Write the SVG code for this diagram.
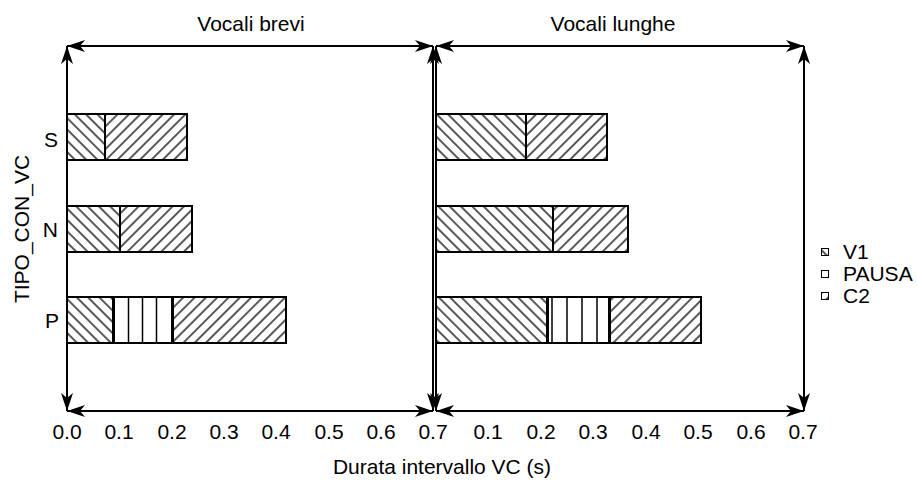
<svg xmlns="http://www.w3.org/2000/svg" width="917" height="480" viewBox="0 0 917 480">
<style>
  text { font-family: "Liberation Sans", Arial, sans-serif; font-size: 21px; fill: #000; }
  .axis { stroke: #000; stroke-width: 2; fill: none; marker-start: url(#arr); marker-end: url(#arr); }
  .bar { stroke: #000; stroke-width: 2; }
  .v1 { fill: url(#hatchV1); }
  .c2 { fill: url(#hatchC2); }
  .pa { fill: #fff; }
  .pl { stroke: #000; stroke-width: 1.5; }
  .tick { text-anchor: middle; }
  .cat { text-anchor: end; }
  .leg { stroke: #000; stroke-width: 1; }
</style>
<defs>
  <marker id="arr" viewBox="0 0 18 12" refX="18" refY="6" markerWidth="18" markerHeight="12" markerUnits="userSpaceOnUse" orient="auto-start-reverse">
    <path d="M0,0 L18,6 L0,12 L5,6 Z" fill="#000"/>
  </marker>
  <pattern id="hatchV1" width="8" height="8" patternUnits="userSpaceOnUse" patternTransform="rotate(-45)">
    <rect width="8" height="8" fill="#fff"/>
    <line x1="4" y1="0" x2="4" y2="8" stroke="#000" stroke-width="1.3"/>
  </pattern>
  <pattern id="hatchC2" width="8" height="8" patternUnits="userSpaceOnUse" patternTransform="rotate(45)">
    <rect width="8" height="8" fill="#fff"/>
    <line x1="4" y1="0" x2="4" y2="8" stroke="#000" stroke-width="1.3"/>
  </pattern>
</defs>
<rect width="917" height="480" fill="#fff"/>

<g id="titles">
  <text x="251" y="31" text-anchor="middle">Vocali brevi</text>
  <text x="613" y="31" text-anchor="middle">Vocali lunghe</text>
  <text x="442" y="474" text-anchor="middle">Durata intervallo VC (s)</text>
  <text transform="translate(29,229) rotate(-90)" text-anchor="middle">TIPO_CON_VC</text>
</g>

<g id="connectors">
  <line class="axis" x1="67" y1="46" x2="433" y2="46"/>
  <line class="axis" x1="67" y1="411" x2="433" y2="411"/>
  <line class="axis" x1="67" y1="46" x2="67" y2="411"/>
  <line class="axis" x1="433" y1="46" x2="433" y2="411"/>
  <line class="axis" x1="436" y1="46" x2="804" y2="46"/>
  <line class="axis" x1="436" y1="411" x2="804" y2="411"/>
  <line class="axis" x1="436" y1="46" x2="436" y2="411"/>
  <line class="axis" x1="804" y1="46" x2="804" y2="411"/>
</g>

<g id="ticks-left">
  <text class="tick" x="67" y="439">0.0</text>
  <text class="tick" x="119" y="439">0.1</text>
  <text class="tick" x="172" y="439">0.2</text>
  <text class="tick" x="224" y="439">0.3</text>
  <text class="tick" x="276" y="439">0.4</text>
  <text class="tick" x="329" y="439">0.5</text>
  <text class="tick" x="381" y="439">0.6</text>
  <text class="tick" x="433" y="439">0.7</text>
</g>
<g id="ticks-right">
  <text class="tick" x="488" y="439">0.1</text>
  <text class="tick" x="541" y="439">0.2</text>
  <text class="tick" x="593" y="439">0.3</text>
  <text class="tick" x="646" y="439">0.4</text>
  <text class="tick" x="698" y="439">0.5</text>
  <text class="tick" x="751" y="439">0.6</text>
  <text class="tick" x="803" y="439">0.7</text>
</g>

<g id="categories">
  <text class="cat" x="58" y="147">S</text>
  <text class="cat" x="58" y="237">N</text>
  <text class="cat" x="59" y="328">P</text>
</g>

<g id="bars-brevi">
  <g id="brevi-S">
    <rect class="bar v1" x="67" y="114" width="38" height="46"/>
    <rect class="bar c2" x="105" y="114" width="82" height="46"/>
  </g>
  <g id="brevi-N">
    <rect class="bar v1" x="67" y="206" width="53" height="46"/>
    <rect class="bar c2" x="120" y="206" width="72" height="46"/>
  </g>
  <g id="brevi-P">
    <rect class="bar v1" x="67" y="297" width="46" height="46"/>
    <rect class="bar pa" x="114" y="297" width="58" height="46"/>
    <line class="pl" x1="128.5" y1="297" x2="128.5" y2="343"/>
    <line class="pl" x1="142.5" y1="297" x2="142.5" y2="343"/>
    <line class="pl" x1="156.5" y1="297" x2="156.5" y2="343"/>
    <rect class="bar c2" x="173" y="297" width="113" height="46"/>
  </g>
</g>

<g id="bars-lunghe">
  <g id="lunghe-S">
    <rect class="bar v1" x="436" y="114" width="90" height="46"/>
    <rect class="bar c2" x="526" y="114" width="81" height="46"/>
  </g>
  <g id="lunghe-N">
    <rect class="bar v1" x="436" y="206" width="117" height="46"/>
    <rect class="bar c2" x="553" y="206" width="75" height="46"/>
  </g>
  <g id="lunghe-P">
    <rect class="bar v1" x="436" y="297" width="111" height="46"/>
    <rect class="bar pa" x="548" y="297" width="61" height="46"/>
    <line class="pl" x1="552" y1="297" x2="552" y2="343"/>
    <line class="pl" x1="567" y1="297" x2="567" y2="343"/>
    <line class="pl" x1="582" y1="297" x2="582" y2="343"/>
    <line class="pl" x1="597" y1="297" x2="597" y2="343"/>
    <rect class="bar c2" x="610" y="297" width="91" height="46"/>
  </g>
</g>

<g id="legend">
  <g id="legend-V1">
    <rect class="leg" x="821.5" y="248.5" width="7" height="7" fill="url(#hatchV1)"/>
    <text x="843" y="259">V1</text>
  </g>
  <g id="legend-PAUSA">
    <rect class="leg" x="821.5" y="270.5" width="7" height="7" fill="#fff"/>
    <text x="843" y="281">PAUSA</text>
  </g>
  <g id="legend-C2">
    <rect class="leg" x="821.5" y="292.5" width="7" height="7" fill="url(#hatchC2)"/>
    <text x="843" y="303">C2</text>
  </g>
</g>
</svg>
